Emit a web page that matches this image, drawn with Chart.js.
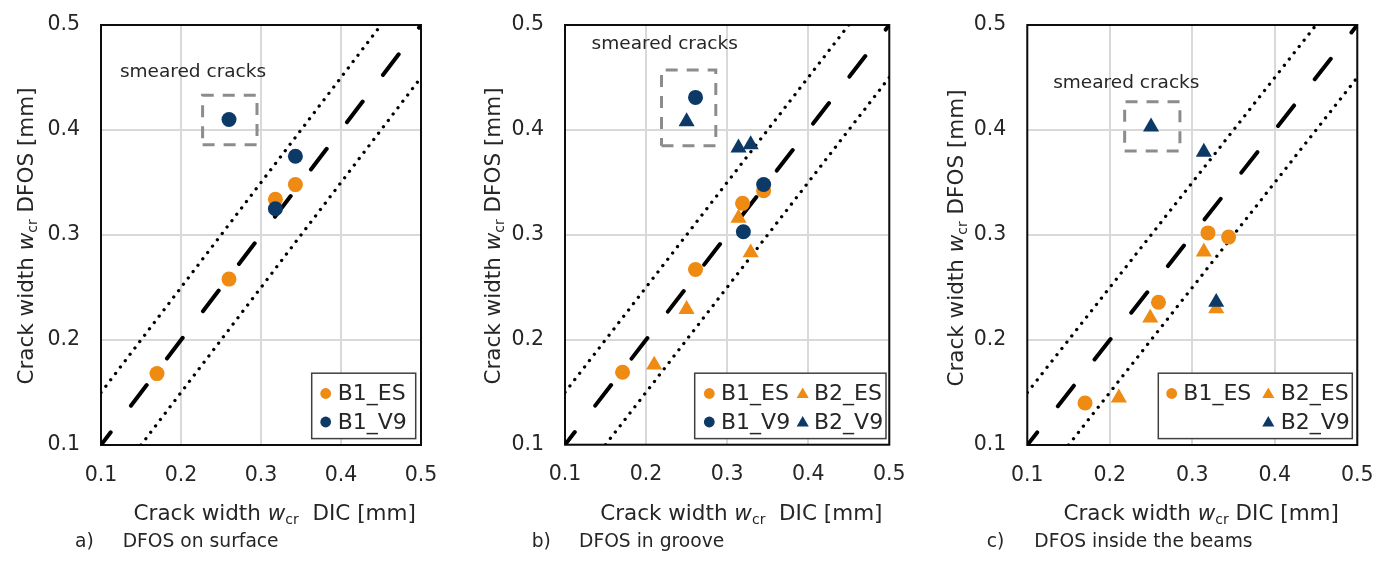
<!DOCTYPE html>
<html><head><meta charset="utf-8">
<script src="https://cdn.jsdelivr.net/npm/chart.js@4.4.1/dist/chart.umd.min.js"></script>
<style>
html,body{margin:0;padding:0;background:#fff;}
body{width:1386px;height:561px;position:relative;overflow:hidden;font-family:"DejaVu Sans",Verdana,sans-serif;}
canvas{position:absolute;top:0;}
.cap{position:absolute;font-size:18.7px;line-height:22px;color:#262626;white-space:nowrap;}
</style></head><body>
<canvas id="ca" width="462" height="561" style="left:0px"></canvas>
<canvas id="cb" width="462" height="561" style="left:462px"></canvas>
<canvas id="cc" width="462" height="561" style="left:924px"></canvas>
<div id="caps"></div>
<script>
// ---------- DATA ----------
const tickValues = [0.1, 0.2, 0.3, 0.4, 0.5];
const tickLabels = ['0.1', '0.2', '0.3', '0.4', '0.5'];
const seriesNames = ['B1_ES', 'B1_V9', 'B2_ES', 'B2_V9'];

// a) DFOS on surface
const a_B1_ES_x = [0.170, 0.260, 0.318, 0.343];
const a_B1_ES_y = [0.168, 0.258, 0.334, 0.348];
const a_B1_V9_x = [0.260, 0.318, 0.343];
const a_B1_V9_y = [0.410, 0.325, 0.375];

// b) DFOS in groove
const b_B1_ES_x = [0.171, 0.261, 0.319, 0.345];
const b_B1_ES_y = [0.169, 0.267, 0.330, 0.342];
const b_B1_V9_x = [0.261, 0.320, 0.345];
const b_B1_V9_y = [0.431, 0.303, 0.348];
const b_B2_ES_x = [0.210, 0.250, 0.314, 0.329];
const b_B2_ES_y = [0.176, 0.229, 0.316, 0.283];
const b_B2_V9_x = [0.250, 0.314, 0.329];
const b_B2_V9_y = [0.408, 0.383, 0.386];

// c) DFOS inside the beams
const c_B1_ES_x = [0.170, 0.259, 0.319, 0.344];
const c_B1_ES_y = [0.140, 0.236, 0.302, 0.298];
const c_B2_ES_x = [0.211, 0.249, 0.314, 0.329];
const c_B2_ES_y = [0.145, 0.221, 0.284, 0.230];
const c_B2_V9_x = [0.250, 0.314, 0.329];
const c_B2_V9_y = [0.403, 0.379, 0.236];

// reference lines: y = x and +/- 0.05 mm
const identX = [0.1, 0.5];
const identY = [0.1, 0.5];
const upperX = [0.1, 0.45];
const upperY = [0.15, 0.5];
const lowerX = [0.15, 0.5];
const lowerY = [0.1, 0.45];

// "smeared cracks" boxes and labels
const a_boxX = [0.227, 0.295], a_boxY = [0.386, 0.433];
const b_boxX = [0.219, 0.286], b_boxY = [0.385, 0.457];
const c_boxX = [0.218, 0.285], c_boxY = [0.380, 0.427];
const smearedText = 'smeared cracks';
const a_labelPos = [0.215, 0.455];
const b_labelPos = [0.223, 0.482];
const c_labelPos = [0.220, 0.445];

// titles and captions
const yTitleParts = ['Crack width ', 'w', 'cr', ' DFOS [mm]'];
const xTitlePartsAB = ['Crack width ', 'w', 'cr', '  DIC [mm]'];
const xTitlePartsC = ['Crack width ', 'w', 'cr', ' DIC [mm]'];
const captionLetters = ['a)', 'b)', 'c)'];
const captionTexts = ['DFOS on surface', 'DFOS in groove', 'DFOS inside the beams'];

// ---------- STYLE ----------
const FONT = '"DejaVu Sans", Verdana, sans-serif';
const ORANGE = '#EF8A12';
const NAVY = '#0D3966';
const TEXT = '#262626';

const pts = (xs, ys) => xs.map((x, i) => ({x: x, y: ys[i]}));
const rect = (xs, ys) => [
  {x: xs[0], y: ys[0]}, {x: xs[1], y: ys[0]}, {x: xs[1], y: ys[1]},
  {x: xs[0], y: ys[1]}, {x: xs[0], y: ys[0]}
];

function ptDS(label, xs, ys, color, style, order) {
  return {
    label: label, data: pts(xs, ys), showLine: false,
    pointStyle: style, pointRadius: style === 'circle' ? 7.5 : 9.3,
    pointBackgroundColor: color, pointBorderColor: color, pointBorderWidth: 0,
    backgroundColor: color, borderColor: color, order: order
  };
}
function lineDS(data, color, width, dash, cap, offset) {
  return {
    label: '', data: data, showLine: true, pointRadius: 0, tension: 0,
    borderColor: color, borderWidth: width, borderDash: dash,
    borderDashOffset: offset || 0, borderCapStyle: cap, borderJoinStyle: 'miter',
    fill: false, order: 10
  };
}
function refDatasets(boxX, boxY) {
  return [
    lineDS(pts(identX, identY), '#000', 4, [26, 33.4], 'round', 10),
    lineDS(pts(upperX, upperY), '#000', 3.3, [0.001, 8], 'round', 0),
    lineDS(pts(lowerX, lowerY), '#000', 3.3, [0.001, 8], 'round', 0),
    lineDS(rect(boxX, boxY), '#8C8C8C', 3, [12, 9], 'butt', 0)
  ];
}

function drawMarker(ctx, style, x, y, r, color) {
  ctx.save();
  ctx.fillStyle = color;
  ctx.beginPath();
  if (style === 'circle') {
    ctx.arc(x, y, r, 0, Math.PI * 2);
  } else {
    let a = 0;
    ctx.moveTo(x + Math.sin(a) * r, y - Math.cos(a) * r);
    a += 2 * Math.PI / 3;
    ctx.lineTo(x + Math.sin(a) * r, y - Math.cos(a) * r);
    a += 2 * Math.PI / 3;
    ctx.lineTo(x + Math.sin(a) * r, y - Math.cos(a) * r);
    ctx.closePath();
  }
  ctx.fill();
  ctx.restore();
}

function rich(ctx, parts, cx, cy, rot) {
  const fonts = ['21.5px ' + FONT, 'italic 21.5px ' + FONT, '14px ' + FONT, '21.5px ' + FONT];
  const dys = [0, 0, 4, 0];
  ctx.save();
  ctx.translate(cx, cy);
  if (rot) ctx.rotate(-Math.PI / 2);
  let total = 0; const ws = [];
  parts.forEach((t, i) => { ctx.font = fonts[i]; ws[i] = ctx.measureText(t).width; total += ws[i]; });
  let x = -total / 2;
  ctx.textBaseline = 'alphabetic'; ctx.textAlign = 'left'; ctx.fillStyle = TEXT;
  parts.forEach((t, i) => { ctx.font = fonts[i]; ctx.fillText(t, x, 7.8 + dys[i]); x += ws[i]; });
  ctx.restore();
}

const decor = {
  id: 'decor',
  beforeDatasetsDraw(chart, args, o) {
    const ctx = chart.ctx, a = chart.chartArea;
    ctx.save();
    ctx.strokeStyle = '#0d0d0d'; ctx.lineWidth = 2;
    ctx.strokeRect(a.left, a.top, a.right - a.left, a.bottom - a.top);
    ctx.restore();
  },
  afterDatasetsDraw(chart, args, o) {
    const ctx = chart.ctx, sx = chart.scales.x, sy = chart.scales.y;
    // smeared cracks label
    ctx.save();
    ctx.font = '18.5px ' + FONT; ctx.fillStyle = TEXT;
    ctx.textAlign = 'center'; ctx.textBaseline = 'middle';
    ctx.fillText(smearedText, sx.getPixelForValue(o.labelPos[0]), sy.getPixelForValue(o.labelPos[1]));
    ctx.restore();
    // legend
    const L = o.legend;
    ctx.save();
    ctx.fillStyle = '#fff';
    ctx.fillRect(L.x0, L.y0, L.x1 - L.x0, L.y1 - L.y0);
    ctx.strokeStyle = '#404040'; ctx.lineWidth = 1.5;
    ctx.strokeRect(L.x0, L.y0, L.x1 - L.x0, L.y1 - L.y0);
    ctx.font = '22px ' + FONT; ctx.fillStyle = TEXT;
    ctx.textAlign = 'left'; ctx.textBaseline = 'middle';
    L.items.forEach(it => {
      const ds = chart.data.datasets[it.ds];
      const st = ds.pointStyle;
      drawMarker(ctx, st, it.mx, it.y + (st === 'circle' ? 0 : 1), st === 'circle' ? 5.4 : 7, ds.pointBackgroundColor);
      ctx.fillStyle = TEXT;
      ctx.fillText(ds.label, it.tx, it.y + 1);
    });
    ctx.restore();
    // axis titles
    rich(ctx, yTitleParts, o.yTitle[0], o.yTitle[1], true);
    rich(ctx, o.xParts, o.xTitle[0], o.xTitle[1], false);
  }
};

function makeChart(id, datasets, geo, decorOpts) {
  return new Chart(document.getElementById(id), {
    type: 'scatter',
    data: {datasets: datasets},
    plugins: [decor],
    options: {
      responsive: false, animation: false, events: [],
      layout: {autoPadding: false, padding: {left: 0, top: geo.top, right: 462 - geo.right, bottom: 561 - geo.bottom - 40}},
      plugins: {legend: {display: false}, tooltip: {enabled: false}, decor: decorOpts},
      scales: {
        x: {
          type: 'linear', min: 0.1, max: 0.5,
          afterBuildTicks: s => { s.ticks = tickValues.map(v => ({value: v})); },
          afterFit: s => { s.height = 40; },
          ticks: {callback: (v, i) => tickLabels[i], font: {family: FONT, size: 20.5}, color: TEXT,
                  padding: 0, maxRotation: 0, autoSkip: false},
          grid: {color: '#d9d9d9', lineWidth: 2, drawTicks: true, tickLength: 18, tickColor: 'rgba(0,0,0,0)'},
          border: {display: false}
        },
        y: {
          type: 'linear', min: 0.1, max: 0.5,
          afterBuildTicks: s => { s.ticks = tickValues.map(v => ({value: v})); },
          afterFit: s => { s.width = geo.left; },
          ticks: {callback: (v, i) => tickLabels[i], font: {family: FONT, size: 20.5}, color: TEXT,
                  padding: 0, autoSkip: false},
          grid: {color: '#d9d9d9', lineWidth: 2, drawTicks: true, tickLength: 21, tickColor: 'rgba(0,0,0,0)'},
          border: {display: false}
        }
      }
    }
  });
}

// Panel a
makeChart('ca', [
  ptDS(seriesNames[1], a_B1_V9_x, a_B1_V9_y, NAVY, 'circle', 0),
  ptDS(seriesNames[0], a_B1_ES_x, a_B1_ES_y, ORANGE, 'circle', 1),
  ...refDatasets(a_boxX, a_boxY)
], {left: 101, right: 421, top: 25, bottom: 445}, {
  labelPos: a_labelPos, yTitle: [25, 236], xTitle: [274.7, 511.7], xParts: xTitlePartsAB,
  legend: {x0: 311.7, x1: 415.7, y0: 373.2, y1: 438.6, items: [
    {ds: 1, mx: 325.7, tx: 337.7, y: 393.5},
    {ds: 0, mx: 325.7, tx: 337.7, y: 422}
  ]}
});

// Panel b
makeChart('cb', [
  ptDS(seriesNames[1], b_B1_V9_x, b_B1_V9_y, NAVY, 'circle', 0),
  ptDS(seriesNames[3], b_B2_V9_x, b_B2_V9_y, NAVY, 'triangle', 0),
  ptDS(seriesNames[0], b_B1_ES_x, b_B1_ES_y, ORANGE, 'circle', 1),
  ptDS(seriesNames[2], b_B2_ES_x, b_B2_ES_y, ORANGE, 'triangle', 1),
  ...refDatasets(b_boxX, b_boxY)
], {left: 103, right: 427.3, top: 25, bottom: 444.7}, {
  labelPos: b_labelPos, yTitle: [29.7, 236], xTitle: [279.3, 511.7], xParts: xTitlePartsAB,
  legend: {x0: 232.7, x1: 424, y0: 373.2, y1: 438.6, items: [
    {ds: 2, mx: 247.3, tx: 259, y: 393.5},
    {ds: 3, mx: 340.7, tx: 352, y: 393.5},
    {ds: 0, mx: 247.3, tx: 259, y: 422},
    {ds: 1, mx: 340.7, tx: 352, y: 422}
  ]}
});

// Panel c
makeChart('cc', [
  ptDS(seriesNames[3], c_B2_V9_x, c_B2_V9_y, NAVY, 'triangle', 0),
  ptDS(seriesNames[0], c_B1_ES_x, c_B1_ES_y, ORANGE, 'circle', 1),
  ptDS(seriesNames[2], c_B2_ES_x, c_B2_ES_y, ORANGE, 'triangle', 1),
  ...refDatasets(c_boxX, c_boxY)
], {left: 103.3, right: 433.3, top: 25, bottom: 445}, {
  labelPos: c_labelPos, yTitle: [31, 238], xTitle: [277.2, 511.7], xParts: xTitlePartsC,
  legend: {x0: 234.3, x1: 428.3, y0: 373.2, y1: 438.6, items: [
    {ds: 1, mx: 247.7, tx: 259.3, y: 393.5},
    {ds: 2, mx: 344.3, tx: 356.7, y: 393.5},
    {ds: 0, mx: 344.3, tx: 356.7, y: 422}
  ]}
});

// captions
const capPos = [[75, 122.7], [531.7, 579], [986.7, 1034.3]];
const capsEl = document.getElementById('caps');
captionLetters.forEach((l, i) => {
  const d1 = document.createElement('div'); d1.className = 'cap';
  d1.style.left = capPos[i][0] + 'px'; d1.style.top = '530px'; d1.textContent = l;
  const d2 = document.createElement('div'); d2.className = 'cap';
  d2.style.left = capPos[i][1] + 'px'; d2.style.top = '530px'; d2.textContent = captionTexts[i];
  capsEl.appendChild(d1); capsEl.appendChild(d2);
});
</script>
</body></html>
